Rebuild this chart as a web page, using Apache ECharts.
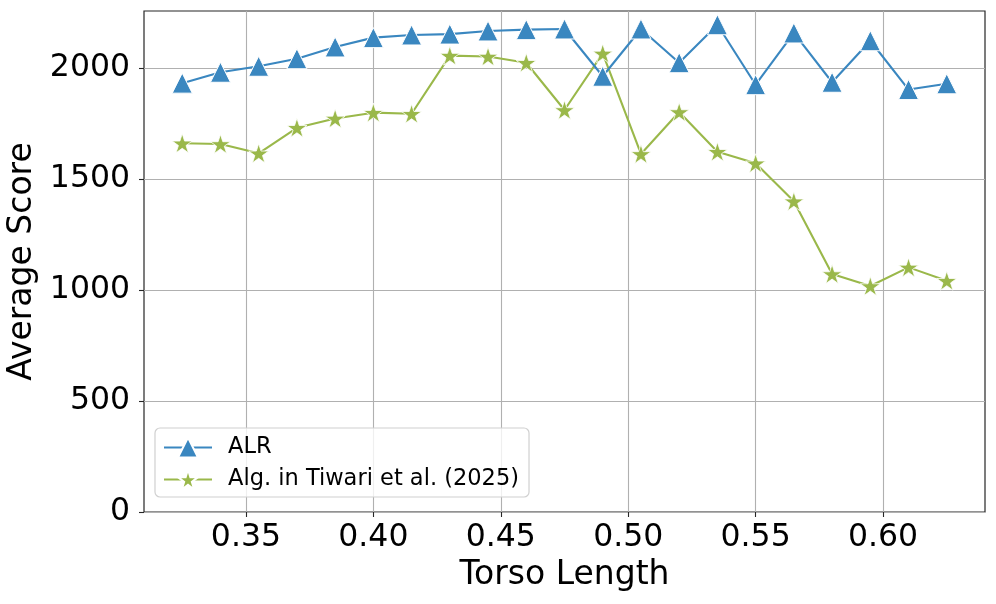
<!DOCTYPE html>
<html>
<head>
<meta charset="utf-8">
<script src="https://cdn.jsdelivr.net/npm/echarts@6/dist/echarts.min.js"></script>
<style>
html,body{margin:0;padding:0;background:#fff;}
#chart{width:996px;height:604px;}
</style>
</head>
<body>
<div id="chart"></div>
<script>
// ---- data ----
const torsoLength = [0.325,0.340,0.355,0.370,0.385,0.400,0.415,0.430,0.445,0.460,0.475,0.490,0.505,0.520,0.535,0.550,0.565,0.580,0.595,0.610,0.625];
const alrScores = [1932,1981,2008,2042,2095,2137,2149,2153,2167,2173,2176,1963,2176,2024,2195,1925,2158,1936,2123,1903,1929];
const tiwariScores = [1661,1658,1616,1731,1773,1799,1794,2056,2052,2024,1811,2066,1613,1802,1623,1571,1400,1072,1018,1102,1042];
const seriesNames = ['ALR','Alg. in Tiwari et al. (2025)'];
const xTicks = [0.35,0.40,0.45,0.50,0.55,0.60];
const yTicks = [0,500,1000,1500,2000];
const xLabel = 'Torso Length';
const yLabel = 'Average Score';

// star marker path (regular 5-point star)
function starPath(){
  const pts = [];
  const R = 50, r = R*0.381966;
  for (let i=0;i<10;i++){
    const rad = (i%2===0)?R:r;
    const a = -Math.PI/2 + i*Math.PI/5;
    pts.push((rad*Math.cos(a)).toFixed(2)+','+(rad*Math.sin(a)).toFixed(2));
  }
  return 'path://M'+pts.join('L')+'Z';
}

const FONT = 'DejaVu Sans';
const chart = echarts.init(document.getElementById('chart'), null, {renderer:'canvas'});
chart.setOption({
  animation:false,
  backgroundColor:'#ffffff',
  textStyle:{fontFamily:FONT},
  grid:{left:144,right:11,top:11,bottom:92,containLabel:false,outerBoundsMode:'none',show:true,borderColor:'#262626',borderWidth:1.2,backgroundColor:'transparent'},
  legend:{
    orient:'vertical',left:155,top:428,
    itemWidth:48,itemHeight:25,itemGap:9,
    padding:[8,10,6,8],
    backgroundColor:'rgba(255,255,255,0.8)',
    borderColor:'#d0d0d0',borderWidth:1.2,borderRadius:5,
    textStyle:{fontFamily:FONT,fontSize:22.5,color:'#000',padding:[0,0,0,11]},
    data:seriesNames
  },
  xAxis:{
    type:'value',min:0.31,max:0.64,
    name:xLabel,nameLocation:'middle',nameGap:47,
    nameTextStyle:{fontFamily:FONT,fontSize:33,color:'#000'},
    axisLine:{show:false},
    axisTick:{show:true,length:5,lineStyle:{color:'#262626',width:1.1},customValues:xTicks},
    axisLabel:{fontFamily:FONT,fontSize:31.5,color:'#000',margin:10,customValues:xTicks,formatter:v=>v.toFixed(2)},
    splitLine:{show:true,lineStyle:{color:'#b0b0b0',width:1.1}}
  },
  yAxis:{
    type:'value',min:0,max:2257,
    name:yLabel,nameLocation:'middle',nameGap:102,
    nameTextStyle:{fontFamily:FONT,fontSize:33,color:'#000'},
    axisLine:{show:false},
    axisTick:{show:true,length:5,lineStyle:{color:'#262626',width:1.1},customValues:yTicks},
    axisLabel:{fontFamily:FONT,fontSize:31.5,color:'#000',margin:14,customValues:yTicks,formatter:v=>String(v)},
    splitLine:{show:true,lineStyle:{color:'#b0b0b0',width:1.1}}
  },
  series:[
    {
      name:seriesNames[0],type:'line',
      data:torsoLength.map((x,i)=>[x,alrScores[i]]),
      symbol:'triangle',symbolSize:[20,20],
      lineStyle:{color:'#3a87c0',width:2.1},
      itemStyle:{color:'#3a87c0',borderColor:'#ffffff',borderWidth:1},
      z:3
    },
    {
      name:seriesNames[1],type:'line',
      data:torsoLength.map((x,i)=>[x,tiwariScores[i]]),
      symbol:starPath(),symbolSize:[20,19],
      lineStyle:{color:'#9ab84a',width:2.1},
      itemStyle:{color:'#9ab84a',borderColor:'#ffffff',borderWidth:0.8},
      z:2
    }
  ]
});
</script>
</body>
</html>
